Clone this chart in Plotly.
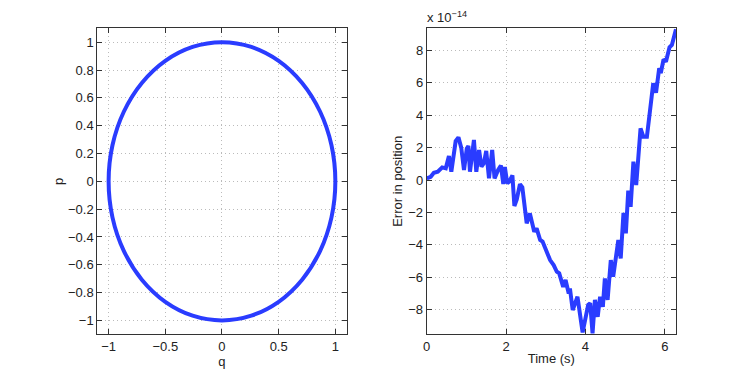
import plotly.graph_objects as go

# phase portrait (q, p), unit circle
q = [1.0, 0.966, 0.866, 0.707, 0.5, 0.259, 0.0, -0.259, -0.5, -0.707, -0.866, -0.966,
     -1.0, -0.966, -0.866, -0.707, -0.5, -0.259, 0.0, 0.259, 0.5, 0.707, 0.866, 0.966, 1.0]
p = [0.0, 0.259, 0.5, 0.707, 0.866, 0.966, 1.0, 0.966, 0.866, 0.707, 0.5, 0.259,
     0.0, -0.259, -0.5, -0.707, -0.866, -0.966, -1.0, -0.966, -0.866, -0.707, -0.5, -0.259, 0.0]

# error in position, in units of 1e-14
time_s = [0.00, 0.10, 0.18, 0.28, 0.39, 0.48, 0.56, 0.62, 0.73, 0.80, 0.87, 0.94, 1.01,
          1.05, 1.09, 1.19, 1.25, 1.32, 1.38, 1.44, 1.50, 1.57, 1.65, 1.71, 1.80, 1.87,
          1.93, 1.97, 2.03, 2.08, 2.16, 2.21, 2.27, 2.35, 2.41, 2.52, 2.60, 2.71, 2.77,
          2.86, 2.92, 3.00, 3.06, 3.11, 3.20, 3.28, 3.34, 3.44, 3.50, 3.58, 3.61, 3.68,
          3.80, 3.93, 4.07, 4.12, 4.18, 4.24, 4.31, 4.37, 4.44, 4.49, 4.56, 4.64, 4.70,
          4.83, 4.89, 4.96, 5.02, 5.08, 5.14, 5.21, 5.28, 5.39, 5.46, 5.55, 5.67, 5.71,
          5.78, 5.86, 5.90, 5.97, 6.03, 6.12, 6.18, 6.2832]
err_e14 = [0.10, 0.20, 0.45, 0.51, 0.78, 0.72, 1.48, 0.51, 2.40, 2.63, 2.00, 0.62, 1.95,
           2.10, 0.51, 2.47, 0.51, 1.85, 0.82, 1.03, 1.80, 0.10, 1.85, 0.10, 0.62, 0.90,
           -0.25, 0.80, -0.20, -0.10, 0.28, -1.60, -1.20, -0.25, -0.45, -2.67, -2.06, -3.19, -2.98,
           -3.70, -3.80, -4.30, -4.55, -4.94, -5.25, -5.66, -5.76, -6.59, -6.17, -7.00, -6.69, -8.02,
           -7.20, -9.40, -7.70, -7.60, -9.46, -7.40, -8.44, -7.20, -7.82, -6.07, -7.40, -4.94, -5.97,
           -3.70, -4.84, -2.02, -3.29, -0.66, -1.65, 1.13, -0.31, 3.19, 2.67, 2.67, 5.14, 5.97,
           5.39, 6.90, 6.59, 7.45, 7.30, 8.19, 8.33, 9.30]

blue = "#2a3cff"
font = dict(family="Liberation Sans, Arial, sans-serif", size=13, color="#222")

fig = go.Figure()
fig.add_trace(go.Scatter(x=q, y=p, mode="lines", line=dict(color=blue, width=4, shape="spline"),
                         xaxis="x", yaxis="y", showlegend=False))
fig.add_trace(go.Scatter(x=time_s, y=err_e14, mode="lines", line=dict(color=blue, width=4),
                         xaxis="x2", yaxis="y2", showlegend=False))

axis_style = dict(showgrid=True, gridcolor="#bbbbbb", griddash="1px,3px", gridwidth=1,
                  zeroline=False, showline=True, linecolor="#333", linewidth=1, mirror="allticks",
                  ticks="inside", ticklen=5, tickcolor="#333", tickfont=font, automargin=False)

# page body adds an 8px margin, so the figure is 739x368
fig.update_layout(
    width=739, height=368,
    margin=dict(l=0, r=0, t=0, b=0),
    paper_bgcolor="white", plot_bgcolor="white",
    font=font,
    xaxis=dict(domain=[0.1208, 0.4583], range=[-1.1, 1.1], dtick=0.5, anchor="y",
               title=dict(text="q", font=font, standoff=0), **axis_style),
    yaxis=dict(domain=[0.1133, 0.9448], range=[-1.1, 1.1], dtick=0.2, anchor="x",
               title=dict(text="p", font=font, standoff=1), **axis_style),
    xaxis2=dict(domain=[0.5666, 0.9039], range=[0, 6.2832], dtick=2, anchor="y2",
                title=dict(text="Time (s)", font=font, standoff=0), **axis_style),
    yaxis2=dict(domain=[0.1133, 0.9448], range=[-9.52, 9.36], dtick=2, anchor="x2",
                title=dict(text="Error in position", font=font, standoff=2), **axis_style),
    annotations=[dict(text="x 10<sup>−14</sup>", xref="paper", yref="paper", x=0.5645, y=0.948,
                      xanchor="left", yanchor="bottom", showarrow=False, font=font)],
)

fig.write_html("out.html")
